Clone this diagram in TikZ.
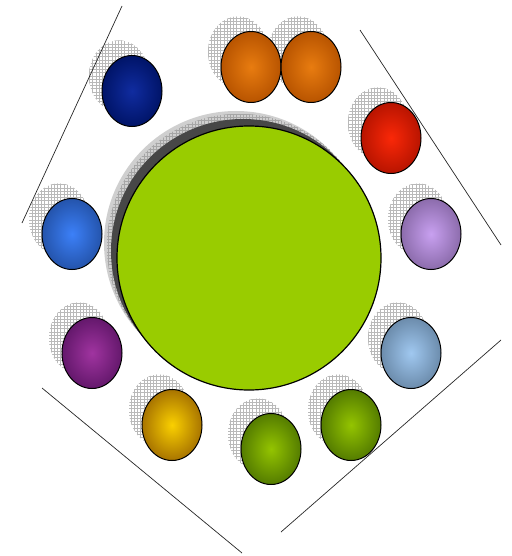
\documentclass[tikz,border=0pt]{standalone}
\usetikzlibrary{shapes.geometric,patterns}
\definecolor{hubgreen}{HTML}{99CC00}
\pgfdeclarepatternformonly{dither}{\pgfqpoint{-0.5pt}{-0.5pt}}{\pgfqpoint{3.5pt}{3.5pt}}{\pgfqpoint{3.2pt}{3.2pt}}{%
  \pgfsetlinewidth{0.9pt}
  \pgfpathrectangle{\pgfqpoint{0pt}{0pt}}{\pgfqpoint{3.2pt}{3.2pt}}
  \pgfusepath{stroke}
}
\begin{document}
\begin{tikzpicture}[x=1pt,y=-1pt,
  ball/.style={ellipse, draw=black, line width=1pt, minimum width=60pt, minimum height=71pt, inner sep=0pt, shading=radial},
  ballshadow/.style={ellipse, minimum width=60pt, minimum height=71pt, inner sep=0pt, pattern=dither, pattern color=gray!55},
  frameline/.style={line width=0.7pt, black!85},
  hubshadow/.style={circle, minimum size=264pt, inner sep=0pt}
]
\useasboundingbox (0,0) rectangle (511,556);

% hub shadows
\node[hubshadow, fill=gray!38] (hs1) at (236,243) {};
\node[hubshadow, pattern=dither, pattern color=gray!70] (hs2) at (239,246) {};
\node[hubshadow, fill=black!72] (hs3) at (243,251) {};
\node[circle, minimum size=264pt, inner sep=0pt, fill=hubgreen, draw=black, line width=1.2pt] (hub) at (249,258) {};

% ball shadows
\foreach \n/\x/\y in {s1/132/91, s2/251/67, s3/311/67, s4/391/138, s5/431/234, s6/72/234, s7/92/353, s8/411/353, s9/172/425, s10/271/449, s11/351/425}{
  \node[ballshadow] (\n) at (\x-13,\y-15) {};
}

% balls
\node[ball, inner color={rgb,255:red,16;green,44;blue,160}, outer color={rgb,255:red,0;green,20;blue,104}] (b1) at (132,91) {};
\node[ball, inner color={rgb,255:red,232;green,124;blue,16}, outer color={rgb,255:red,184;green,84;blue,0}] (b2) at (251,67) {};
\node[ball, inner color={rgb,255:red,232;green,124;blue,16}, outer color={rgb,255:red,184;green,84;blue,0}] (b3) at (311,67) {};
\node[ball, inner color={rgb,255:red,250;green,40;blue,8}, outer color={rgb,255:red,184;green,20;blue,0}] (b4) at (391,138) {};
\node[ball, inner color={rgb,255:red,200;green,160;blue,240}, outer color={rgb,255:red,140;green,108;blue,172}] (b5) at (431,234) {};
\node[ball, inner color={rgb,255:red,60;green,128;blue,248}, outer color={rgb,255:red,36;green,84;blue,172}] (b6) at (72,234) {};
\node[ball, inner color={rgb,255:red,160;green,52;blue,160}, outer color={rgb,255:red,100;green,24;blue,108}] (b7) at (92,353) {};
\node[ball, inner color={rgb,255:red,160;green,200;blue,240}, outer color={rgb,255:red,108;green,140;blue,172}] (b8) at (411,353) {};
\node[ball, inner color={rgb,255:red,250;green,208;blue,0}, outer color={rgb,255:red,168;green,116;blue,0}] (b9) at (172,425) {};
\node[ball, inner color={rgb,255:red,148;green,196;blue,0}, outer color={rgb,255:red,84;green,124;blue,0}] (b10) at (271,449) {};
\node[ball, inner color={rgb,255:red,148;green,196;blue,0}, outer color={rgb,255:red,84;green,124;blue,0}] (b11) at (351,425) {};

% frame lines
\coordinate (l1a) at (122,6);   \coordinate (l1b) at (22,223);
\coordinate (l2a) at (360,30);  \coordinate (l2b) at (501,245);
\coordinate (l3a) at (42,388);  \coordinate (l3b) at (242,553);
\coordinate (l4a) at (501,340); \coordinate (l4b) at (281,532);
\draw[frameline] (l1a) -- (l1b);
\draw[frameline] (l2a) -- (l2b);
\draw[frameline] (l3a) -- (l3b);
\draw[frameline] (l4a) -- (l4b);
\end{tikzpicture}
\end{document}
